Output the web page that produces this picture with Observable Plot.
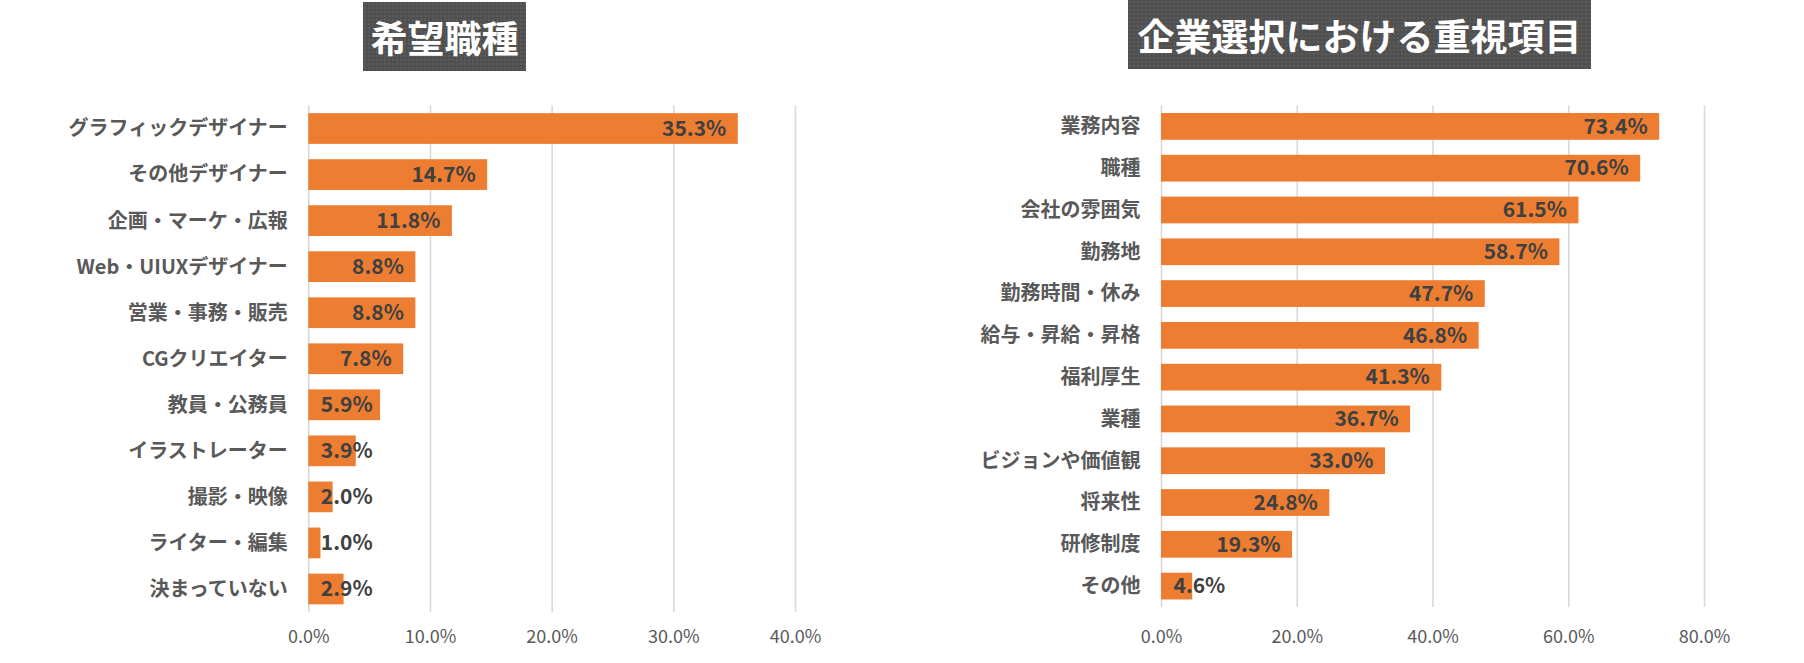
<!DOCTYPE html>
<html>
<head>
<meta charset="utf-8">
<script src="https://cdn.jsdelivr.net/npm/d3@7"></script>
<script src="https://cdn.jsdelivr.net/npm/@observablehq/plot@0.6"></script>
<style>
  html, body { margin: 0; padding: 0; background: #fff; }
  #wrap { position: relative; width: 1804px; height: 663px; overflow: hidden; font-family: "Noto Sans CJK JP", "Noto Sans", sans-serif; }
  .chart { position: absolute; top: 0; }
  .title {
    position: absolute; box-sizing: border-box;
    background-color: #505050;
    background-image: radial-gradient(rgba(255,255,255,0.07) 1px, transparent 1.2px);
    background-size: 4px 4px;
    color: #fff; font-weight: 700; font-size: 37px;
    display: flex; align-items: center; justify-content: center;
    font-family: "Noto Sans CJK JP", sans-serif; letter-spacing: 0;
    white-space: nowrap;
  }
</style>
</head>
<body>
<div id="wrap">
  <div id="left" class="chart" style="left:0px"></div>
  <div id="right" class="chart" style="left:902px"></div>
  <div class="title" style="left:363px; top:2px; width:163px; height:69px;">希望職種</div>
  <div class="title" style="left:1128px; top:0px; width:463px; height:69px;">企業選択における重視項目</div>
</div>
<script>
// ---- Data ----
const jobCategories = ["グラフィックデザイナー", "その他デザイナー", "企画・マーケ・広報", "Web・UIUXデザイナー", "営業・事務・販売", "CGクリエイター", "教員・公務員", "イラストレーター", "撮影・映像", "ライター・編集", "決まっていない"];
const jobValues = [35.3, 14.7, 11.8, 8.8, 8.8, 7.8, 5.9, 3.9, 2.0, 1.0, 2.9];
const jobTicks = [0, 10, 20, 30, 40];

const factorCategories = ["業務内容", "職種", "会社の雰囲気", "勤務地", "勤務時間・休み", "給与・昇給・昇格", "福利厚生", "業種", "ビジョンや価値観", "将来性", "研修制度", "その他"];
const factorValues = [73.4, 70.6, 61.5, 58.7, 47.7, 46.8, 41.3, 36.7, 33.0, 24.8, 19.3, 4.6];
const factorTicks = [0, 20, 40, 60, 80];

const BAR = "#ED7D31";
const FONT = "'Noto Sans CJK JP', 'Noto Sans', sans-serif";

function makeChart({cats, vals, ticks, width, height, marginLeft, marginRight, marginTop, marginBottom, padding, tickPad}) {
  const data = cats.map((c, i) => ({label: c, value: vals[i]}));
  const xMax = ticks[ticks.length - 1];
  const pxPerUnit = (width - marginLeft - marginRight) / xMax;
  const labelW = d => (d.value >= 10 ? 61 : 49);
  const fits = d => d.value * pxPerUnit >= labelW(d) + 24;
  const fmt = d => d.value.toFixed(1) + "%";
  return Plot.plot({
    width, height, marginLeft, marginRight, marginTop, marginBottom,
    style: {fontFamily: FONT, background: "transparent", overflow: "visible"},
    x: {domain: [0, xMax], axis: null, label: null},
    y: {domain: cats, paddingInner: padding, paddingOuter: padding / 2, round: false, axis: null, label: null},
    marks: [
      Plot.gridX(ticks, {stroke: "#d9d9d9", strokeOpacity: 1, strokeWidth: 1.6}),
      Plot.barX(data, {x: "value", y: "label", fill: BAR}),
      Plot.axisY({tickSize: 0, tickPadding: 21, fontSize: 20, fontWeight: 700, fill: "#595959", fontFamily: FONT, label: null}),
      Plot.axisX({ticks, tickSize: 0, tickPadding: tickPad, fontSize: 18, fill: "#595959", fontFamily: FONT, label: null,
                  tickFormat: d => d.toFixed(1) + "%"}),
      Plot.text(data.filter(fits), {x: "value", y: "label", text: fmt, textAnchor: "end", dx: -12,
                  fontSize: 21, fontWeight: 700, fill: "#404040", fontFamily: FONT}),
      Plot.text(data.filter(d => !fits(d)), {x: 0, y: "label", text: fmt, textAnchor: "start", dx: 12,
                  fontSize: 21, fontWeight: 700, fill: "#404040", fontFamily: FONT})
    ]
  });
}

document.getElementById("left").append(makeChart({
  cats: jobCategories, vals: jobValues, ticks: jobTicks,
  width: 902, height: 663, marginLeft: 308.3, marginRight: 107, marginTop: 105.5, marginBottom: 51,
  padding: 0.333, tickPad: 18
}));

document.getElementById("right").append(makeChart({
  cats: factorCategories, vals: factorValues, ticks: factorTicks,
  width: 902, height: 663, marginLeft: 259, marginRight: 100, marginTop: 105.5, marginBottom: 56,
  padding: 0.36, tickPad: 23
}));
</script>
</body>
</html>
